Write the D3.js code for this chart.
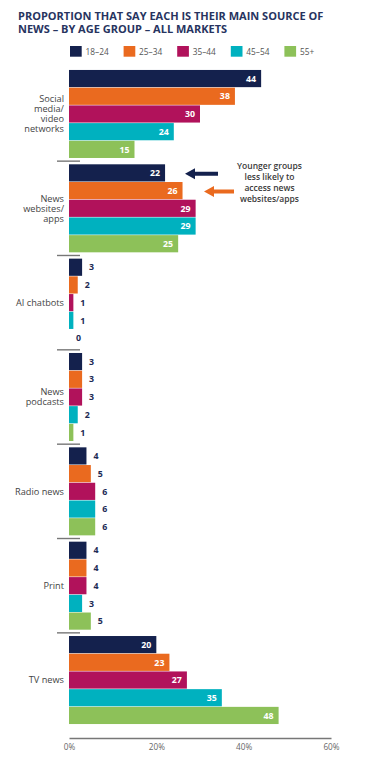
<!DOCTYPE html>
<html>
<head>
<meta charset="utf-8">
<script src="https://cdn.jsdelivr.net/npm/d3@7"></script>
<style>
  html, body { margin: 0; padding: 0; background: #fff; }
  svg { display: block; font-family: "Open Sans", "Noto Sans", sans-serif; }
</style>
</head>
<body>
<svg id="chart" width="365" height="768"></svg>
<script>
// ---- Data ----
const titleLines = ["PROPORTION THAT SAY EACH IS THEIR MAIN SOURCE OF", "NEWS – BY AGE GROUP – ALL MARKETS"];
const categories = ["Social media/video networks", "News websites/apps", "AI chatbots", "News podcasts", "Radio news", "Print", "TV news"];
const categoryLines = [["Social", "media/", "video", "networks"], ["News", "websites/", "apps"], ["AI chatbots"], ["News", "podcasts"], ["Radio news"], ["Print"], ["TV news"]];
const seriesNames = ["18–24", "25–34", "35–44", "45–54", "55+"];
const seriesColors = ["#14214d", "#ea6a1f", "#b1125b", "#00b1bf", "#8dc159"];
const values = {
  "18–24": [44, 22, 3, 3, 4, 4, 20],
  "25–34": [38, 26, 2, 3, 5, 4, 23],
  "35–44": [30, 29, 1, 3, 6, 4, 27],
  "45–54": [24, 29, 1, 2, 6, 3, 35],
  "55+":   [15, 25, 0, 1, 6, 5, 48]
};
const xTicks = [0, 20, 40, 60];
const annotationLines = ["Younger groups", "less likely to", "access news", "websites/apps"];

// ---- Layout ----
const svg = d3.select("#chart");
const x = d3.scaleLinear().domain([0, 60]).range([69, 331]);
const y = d3.scaleBand().domain(categories).range([66.8, 727.2]).paddingInner(0.067).paddingOuter(0.0335);
const yInner = d3.scaleBand().domain(seriesNames).range([0, y.bandwidth()]).paddingInner(0.03);
const color = d3.scaleOrdinal().domain(seriesNames).range(seriesColors);

// Title
svg.append("g").selectAll("text").data(titleLines).join("text")
  .attr("x", 18).attr("y", (d, i) => 19.6 + i * 13)
  .attr("font-size", 11).attr("font-weight", 700).attr("fill", "#27345f")
  .text(d => d);

// Legend
const leg = svg.append("g").selectAll("g").data(seriesNames).join("g")
  .attr("transform", (d, i) => `translate(${70 + i * 53.6},46)`);
leg.append("rect").attr("width", 11.7).attr("height", 10.7).attr("fill", d => color(d));
leg.append("text").attr("x", 15.5).attr("y", 8.7).attr("font-size", 8.3)
  .attr("fill", "#555").text(d => d);

// Groups
const groups = svg.append("g").selectAll("g").data(categories).join("g")
  .attr("transform", d => `translate(0,${y(d)})`);

groups.each(function(cat, ci) {
  const g = d3.select(this);
  seriesNames.forEach(s => {
    const v = values[s][ci];
    const y0 = yInner(s);
    g.append("rect")
      .attr("x", x(0)).attr("y", y0)
      .attr("width", x(v) - x(0)).attr("height", yInner.bandwidth())
      .attr("fill", color(s));
    const inside = v >= 10;
    g.append("text")
      .attr("x", inside ? x(v) - 5 : x(v) + 7)
      .attr("y", y0 + yInner.bandwidth() / 2 + 3.2)
      .attr("text-anchor", inside ? "end" : "start")
      .attr("font-size", 8.8).attr("font-weight", 700)
      .attr("fill", inside ? "#fff" : "#1d2a55")
      .text(v);
  });
  // category label
  const lines = categoryLines[ci];
  const lh = 10;
  const cy = y.bandwidth() / 2;
  g.append("text")
    .attr("text-anchor", "end").attr("font-size", 9.2).attr("fill", "#444")
    .selectAll("tspan").data(lines).join("tspan")
    .attr("x", x(0) - 5)
    .attr("y", (d, i) => cy + (i - (lines.length - 1) / 2) * lh + 3.2)
    .text(d => d);
  // separator above group (except first)
  if (ci > 0) {
    const sy = -(y.step() - y.bandwidth()) / 2;
    g.append("line")
      .attr("x1", x(0) - 12).attr("x2", x(0) + 11)
      .attr("y1", sy).attr("y2", sy)
      .attr("stroke", "#777").attr("stroke-width", 1.4);
  }
});

// Annotation
const yNews = y("News websites/apps");
const arrow = (xTip, xTail, yc, col) => {
  const hw = 5.5, hl = 10, sw = 2;
  const pts = [[xTip, yc], [xTip + hl, yc - hw], [xTip + hl, yc - sw], [xTail, yc - sw],
               [xTail, yc + sw], [xTip + hl, yc + sw], [xTip + hl, yc + hw]];
  svg.append("path").attr("d", d3.line()(pts) + "Z").attr("fill", col);
};
arrow(185, 218, yNews + yInner("18–24") + yInner.bandwidth() / 2 + 0.8, seriesColors[0]);
arrow(204, 234, yNews + yInner("25–34") + yInner.bandwidth() / 2 + 0.8, seriesColors[1]);
svg.append("text").attr("text-anchor", "middle").attr("font-size", 8.5)
  .attr("font-weight", 600).attr("fill", "#3a3a3a")
  .selectAll("tspan").data(annotationLines).join("tspan")
  .attr("x", 269.5).attr("y", (d, i) => 169.3 + i * 11).text(d => d);

// Axis
const axis = svg.append("g").attr("transform", "translate(0,738)")
  .call(d3.axisBottom(x).tickValues(xTicks).tickSize(0).tickFormat(d => d + "%"));
axis.select(".domain").attr("stroke", "#777").attr("stroke-width", 1.5);
axis.selectAll("text").attr("font-size", 8.2).attr("fill", "#666")
  .attr("font-family", "'Open Sans', sans-serif").attr("dy", "1.15em");
</script>
</body>
</html>
